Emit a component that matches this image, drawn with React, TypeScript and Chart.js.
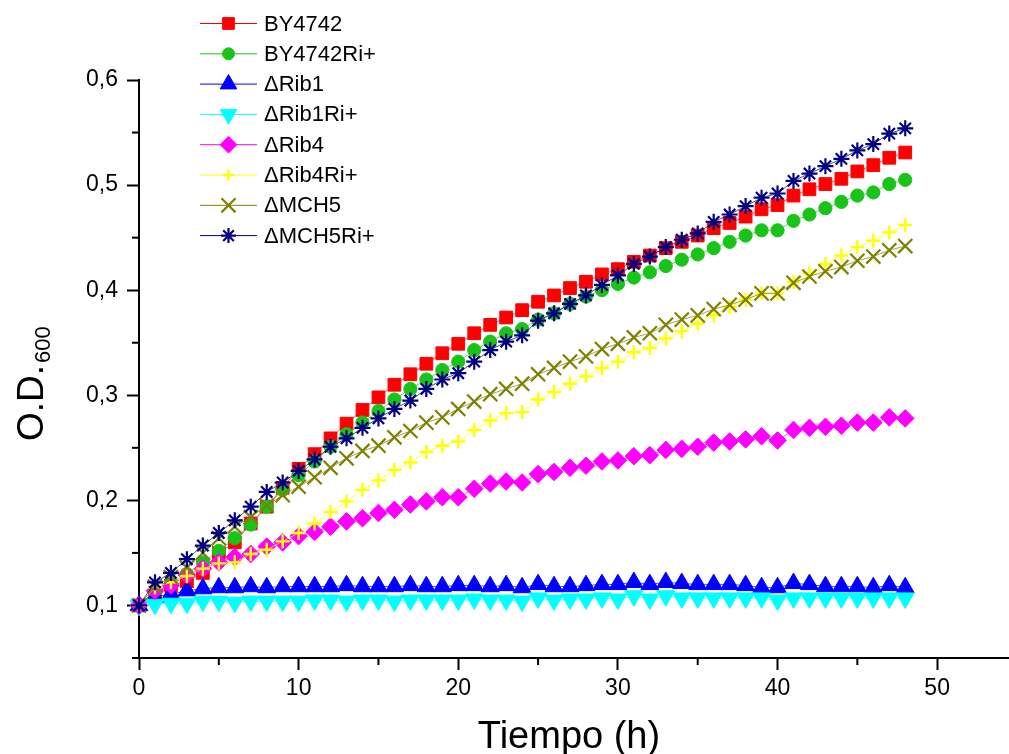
import React, { useEffect, useRef } from 'react';
import { Chart, registerables } from 'chart.js';
import { drawPoint } from 'chart.js/helpers';

Chart.register(...registerables);

const hours = [0, 1, 2, 3, 4, 5, 6, 7, 8, 9, 10, 11, 12, 13, 14, 15, 16, 17, 18, 19, 20, 21, 22, 23, 24, 25, 26, 27, 28, 29, 30, 31, 32, 33, 34, 35, 36, 37, 38, 39, 40, 41, 42, 43, 44, 45, 46, 47, 48];

const by4742 = [0.100, 0.112, 0.119, 0.123, 0.131, 0.150, 0.160, 0.178, 0.194, 0.212, 0.230, 0.244, 0.259, 0.273, 0.286, 0.298, 0.310, 0.320, 0.330, 0.340, 0.349, 0.359, 0.367, 0.374, 0.381, 0.389, 0.395, 0.402, 0.408, 0.415, 0.420, 0.427, 0.433, 0.440, 0.446, 0.452, 0.459, 0.464, 0.470, 0.477, 0.481, 0.490, 0.496, 0.501, 0.506, 0.513, 0.519, 0.526, 0.531];
const by4742Ri = [0.100, 0.113, 0.121, 0.130, 0.141, 0.152, 0.164, 0.177, 0.194, 0.210, 0.224, 0.237, 0.251, 0.263, 0.274, 0.285, 0.296, 0.306, 0.315, 0.324, 0.332, 0.343, 0.351, 0.359, 0.363, 0.372, 0.378, 0.387, 0.394, 0.400, 0.406, 0.412, 0.417, 0.423, 0.429, 0.434, 0.440, 0.446, 0.452, 0.457, 0.457, 0.466, 0.472, 0.478, 0.484, 0.490, 0.493, 0.501, 0.505];
const rib1 = [0.100, 0.108, 0.111, 0.114, 0.116, 0.117, 0.117, 0.118, 0.117, 0.118, 0.118, 0.118, 0.118, 0.119, 0.118, 0.118, 0.118, 0.119, 0.118, 0.118, 0.119, 0.119, 0.118, 0.119, 0.117, 0.120, 0.118, 0.118, 0.119, 0.120, 0.120, 0.122, 0.120, 0.122, 0.121, 0.120, 0.120, 0.120, 0.119, 0.117, 0.117, 0.121, 0.120, 0.118, 0.118, 0.118, 0.117, 0.119, 0.117];
const rib1Ri = [0.100, 0.101, 0.102, 0.102, 0.104, 0.104, 0.103, 0.104, 0.104, 0.104, 0.104, 0.105, 0.105, 0.104, 0.105, 0.105, 0.104, 0.105, 0.105, 0.105, 0.105, 0.106, 0.105, 0.105, 0.104, 0.107, 0.105, 0.106, 0.106, 0.107, 0.106, 0.109, 0.106, 0.109, 0.107, 0.107, 0.107, 0.107, 0.107, 0.107, 0.105, 0.107, 0.107, 0.107, 0.107, 0.107, 0.107, 0.107, 0.107];
const rib4 = [0.100, 0.114, 0.119, 0.129, 0.135, 0.141, 0.146, 0.149, 0.156, 0.160, 0.166, 0.170, 0.175, 0.180, 0.183, 0.188, 0.191, 0.196, 0.199, 0.203, 0.203, 0.211, 0.216, 0.218, 0.217, 0.225, 0.227, 0.231, 0.233, 0.237, 0.238, 0.242, 0.243, 0.248, 0.249, 0.251, 0.255, 0.256, 0.258, 0.261, 0.257, 0.267, 0.269, 0.270, 0.271, 0.274, 0.274, 0.279, 0.278];
const rib4Ri = [0.100, 0.117, 0.122, 0.128, 0.135, 0.140, 0.141, 0.149, 0.153, 0.161, 0.169, 0.178, 0.189, 0.199, 0.210, 0.219, 0.229, 0.236, 0.246, 0.252, 0.256, 0.267, 0.276, 0.283, 0.284, 0.296, 0.303, 0.311, 0.318, 0.326, 0.332, 0.341, 0.345, 0.354, 0.361, 0.368, 0.376, 0.384, 0.391, 0.397, 0.397, 0.408, 0.416, 0.425, 0.433, 0.441, 0.447, 0.455, 0.462];
const mch5 = [0.100, 0.118, 0.127, 0.136, 0.150, 0.164, 0.175, 0.184, 0.195, 0.205, 0.213, 0.222, 0.231, 0.240, 0.247, 0.252, 0.260, 0.266, 0.274, 0.279, 0.287, 0.294, 0.301, 0.306, 0.311, 0.320, 0.326, 0.332, 0.337, 0.344, 0.349, 0.355, 0.359, 0.367, 0.372, 0.376, 0.382, 0.386, 0.391, 0.397, 0.397, 0.407, 0.413, 0.418, 0.422, 0.428, 0.432, 0.438, 0.442];
const mch5Ri = [0.100, 0.122, 0.131, 0.144, 0.157, 0.169, 0.181, 0.194, 0.208, 0.217, 0.228, 0.239, 0.251, 0.259, 0.269, 0.278, 0.287, 0.295, 0.306, 0.315, 0.321, 0.332, 0.343, 0.351, 0.357, 0.371, 0.378, 0.387, 0.395, 0.405, 0.414, 0.425, 0.432, 0.441, 0.448, 0.454, 0.465, 0.472, 0.480, 0.488, 0.492, 0.504, 0.511, 0.518, 0.525, 0.533, 0.539, 0.549, 0.554];

const seriesNames = ['BY4742', 'BY4742Ri+', '\u0394Rib1', '\u0394Rib1Ri+', '\u0394Rib4', '\u0394Rib4Ri+', '\u0394MCH5', '\u0394MCH5Ri+'];
const seriesValues = [by4742, by4742Ri, rib1, rib1Ri, rib4, rib4Ri, mch5, mch5Ri];

const xTicks = [0, 10, 20, 30, 40, 50];
const xMinorTicks = [5, 15, 25, 35, 45];
const yTicks = [0.1, 0.2, 0.3, 0.4, 0.5, 0.6];
const yMinorTicks = [0.05, 0.15, 0.25, 0.35, 0.45, 0.55];

const xTitle = 'Tiempo (h)';
const yTitleMain = 'O.D.';
const yTitleSub = '600';

const FONT = "'Liberation Sans', Arial, Helvetica, sans-serif";

const styles = [
  { color: '#ff0000', pointStyle: 'rect', rotation: 0, radius: 9, bw: 1, lr: 8.3 },
  { color: '#19c419', pointStyle: 'circle', rotation: 0, radius: 6.6, bw: 1, lr: 6.0 },
  { color: '#0000ff', pointStyle: 'triangle', rotation: 0, radius: 10.3, bw: 1, lr: 9.6 },
  { color: '#00ffff', pointStyle: 'triangle', rotation: 180, radius: 10.3, bw: 1, lr: 9.6 },
  { color: '#ff00ff', pointStyle: 'rectRot', rotation: 0, radius: 8.8, bw: 1, lr: 8.4 },
  { color: '#ffff00', pointStyle: 'cross', rotation: 0, radius: 7, bw: 2.4, lr: 5.5 },
  { color: '#808000', pointStyle: 'crossRot', rotation: 0, radius: 10, bw: 2.2, lr: 10 },
  { color: '#000080', pointStyle: 'star', rotation: 0, radius: 8, bw: 2.2, lr: 7.5 },
];

const overlayPlugin = {
  id: 'overlay',
  afterDraw(chart: any) {
    const ctx = chart.ctx as CanvasRenderingContext2D;
    const xs = chart.scales.x;
    const ys = chart.scales.y;
    const area = chart.chartArea;
    ctx.save();
    // minor ticks
    ctx.strokeStyle = '#000';
    ctx.lineWidth = 2;
    xMinorTicks.forEach((v) => {
      const p = xs.getPixelForValue(v);
      ctx.beginPath();
      ctx.moveTo(p, area.bottom);
      ctx.lineTo(p, area.bottom + 7);
      ctx.stroke();
    });
    yMinorTicks.forEach((v) => {
      const p = ys.getPixelForValue(v);
      ctx.beginPath();
      ctx.moveTo(area.left, p);
      ctx.lineTo(area.left - 7, p);
      ctx.stroke();
    });
    // axis titles
    ctx.fillStyle = '#000';
    ctx.font = `38px ${FONT}`;
    ctx.textAlign = 'center';
    ctx.textBaseline = 'alphabetic';
    ctx.fillText(xTitle, 569, 748);

    ctx.save();
    ctx.translate(43, 441);
    ctx.rotate(-Math.PI / 2);
    ctx.textAlign = 'left';
    ctx.font = `37px ${FONT}`;
    ctx.fillText(yTitleMain, 0, 0);
    const w = ctx.measureText(yTitleMain).width;
    ctx.font = `22px ${FONT}`;
    ctx.fillText(yTitleSub, w + 2, 7);
    ctx.restore();

    // legend
    ctx.font = `22px ${FONT}`;
    ctx.textAlign = 'left';
    ctx.textBaseline = 'middle';
    seriesNames.forEach((name, i) => {
      const st = styles[i];
      const y = 23.5 + i * 30.3;
      ctx.strokeStyle = st.color;
      ctx.lineWidth = 1;
      ctx.beginPath();
      ctx.moveTo(200, y);
      ctx.lineTo(257, y);
      ctx.stroke();
      ctx.fillStyle = st.color;
      ctx.strokeStyle = st.color;
      ctx.lineWidth = st.bw;
      drawPoint(ctx, { pointStyle: st.pointStyle, rotation: st.rotation, radius: st.lr, borderWidth: st.bw } as any, 228.5, y);
      ctx.fillStyle = '#000';
      ctx.fillText(name, 264, y + 1);
    });
    ctx.restore();
  },
};

export default function App() {
  const ref = useRef<HTMLCanvasElement | null>(null);
  useEffect(() => {
    if (!ref.current) return;
    const datasets = seriesValues.map((vals, i) => {
      const st = styles[i];
      return {
        label: seriesNames[i],
        data: hours.map((h, j) => ({ x: h, y: vals[j] })),
        borderColor: st.color,
        backgroundColor: st.color,
        borderWidth: 0.7,
        pointStyle: st.pointStyle,
        pointRotation: st.rotation,
        pointRadius: st.radius,
        pointBorderWidth: st.bw,
        pointBackgroundColor: st.color,
        pointBorderColor: st.color,
        fill: false,
        tension: 0,
        clip: false,
        order: seriesValues.length - i,
      };
    });
    const chart = new Chart(ref.current, {
      type: 'line',
      data: { datasets: datasets as any },
      options: {
        animation: false,
        responsive: false,
        events: [],
        layout: { autoPadding: false, padding: { top: 80, right: 0, left: 0, bottom: 0 } },
        plugins: { legend: { display: false }, tooltip: { enabled: false }, title: { display: false } },
        scales: {
          x: {
            type: 'linear',
            min: 0,
            max: 54.5,
            afterFit: (s: any) => { s.height = 96; s.paddingRight = 0; s.paddingLeft = 0; },
            afterBuildTicks: (s: any) => { s.ticks = xTicks.map((v) => ({ value: v })); },
            grid: { drawOnChartArea: false, drawTicks: true, tickLength: 12, tickWidth: 2, tickColor: '#000' },
            border: { display: true, color: '#000', width: 2 },
            ticks: {
              color: '#000',
              font: { family: FONT, size: 23 },
              padding: 5,
              maxRotation: 0,
              callback: (v: any) => String(v),
            },
          },
          y: {
            type: 'linear',
            min: 0.05,
            max: 0.6,
            afterFit: (s: any) => { s.width = 139; s.paddingTop = 0; s.paddingBottom = 0; },
            afterBuildTicks: (s: any) => { s.ticks = yTicks.map((v) => ({ value: v })); },
            grid: { drawOnChartArea: false, drawTicks: true, tickLength: 12, tickWidth: 2, tickColor: '#000' },
            border: { display: true, color: '#000', width: 2 },
            ticks: {
              color: '#000',
              font: { family: FONT, size: 23 },
              padding: 9,
              callback: (v: any) => Number(v).toFixed(1).replace('.', ','),
            },
          },
        },
      },
      plugins: [overlayPlugin],
    });
    return () => chart.destroy();
  }, []);
  return (
    <div style={{ position: 'fixed', left: 0, top: 0, width: 1009, height: 754, background: '#fff' }}>
      <canvas ref={ref} width={1009} height={754} style={{ display: 'block', width: 1009, height: 754 }} />
    </div>
  );
}
